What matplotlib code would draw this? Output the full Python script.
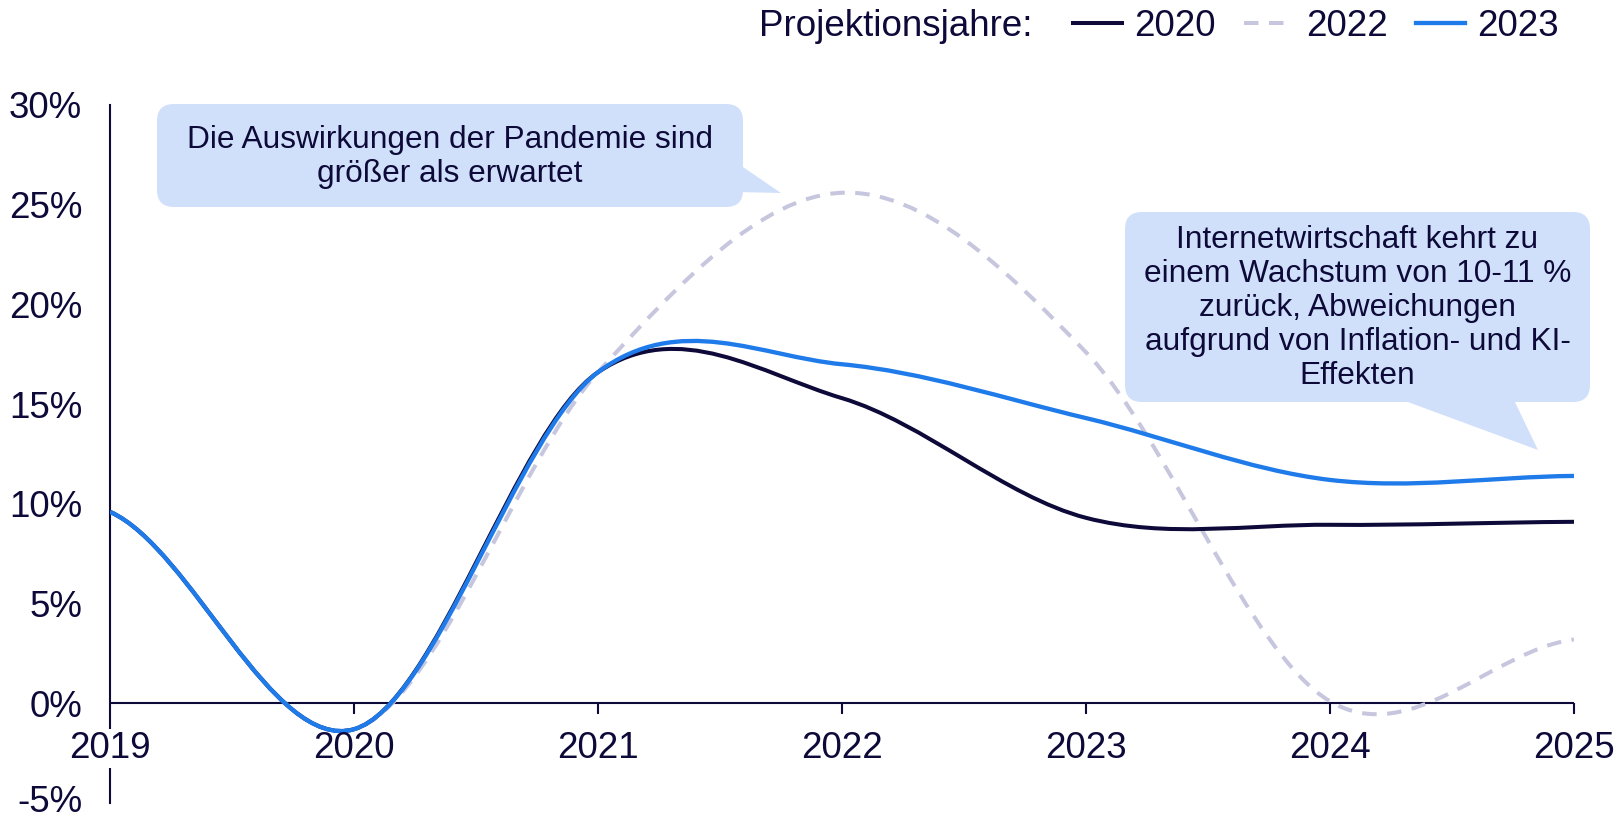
import matplotlib
matplotlib.use("Agg")
import matplotlib.pyplot as plt
from matplotlib.path import Path
from matplotlib.patches import PathPatch, FancyBboxPatch, Polygon
from matplotlib.lines import Line2D
from matplotlib.markers import TICKDOWN
from matplotlib.transforms import ScaledTranslation

plt.rcParams["font.family"] = ["Liberation Sans", "DejaVu Sans"]

# data (growth in %, per projection year)
years = [2019, 2020, 2021, 2022, 2023, 2024, 2025]
proj_2020 = [9.6, -1.3, 16.6, 15.3, 9.3, 8.95, 9.1]
proj_2022 = [9.6, -1.3, 16.6, 25.6, 17.6, 0.1, 3.2]
proj_2023 = [9.6, -1.3, 16.6, 17.0, 14.3, 11.2, 11.4]
series_labels = ["2020", "2022", "2023"]
y_ticks = [-5, 0, 5, 10, 15, 20, 25, 30]

NAVY = "#0d0938"
BLUE = "#1f7be9"
LILAC = "#c6c6de"
BOX = "#d0e0fa"
FS = 26.5

W, H = 1619, 818


def smooth_path(xs, ys):
    # Excel-style smoothed line: cubic bezier through every point
    n = len(xs)
    slope = [(ys[min(i + 1, n - 1)] - ys[max(i - 1, 0)]) / 2 for i in range(n)]
    verts = [(xs[0], ys[0])]
    codes = [Path.MOVETO]
    for i in range(n - 1):
        dx = (xs[i + 1] - xs[i]) / 3
        verts += [(xs[i] + dx, ys[i] + slope[i] / 3),
                  (xs[i + 1] - dx, ys[i + 1] - slope[i + 1] / 3),
                  (xs[i + 1], ys[i + 1])]
        codes += [Path.CURVE4] * 3
    return Path(verts, codes)


fig = plt.figure(figsize=(W / 100, H / 100), dpi=100)
ax = fig.add_axes([110 / W, 1 - 803 / H, (1574 - 110) / W, (803 - 105) / H])
ax.set_xlim(years[0], years[-1])
ax.set_ylim(-5, 30)

styles = [
    dict(color=NAVY, lw=2.9, ls="-"),
    dict(color=LILAC, lw=2.9, ls=(0, (3.6, 2.6))),
    dict(color=BLUE, lw=3.1, ls="-"),
]
order = [1, 0, 2]
data = [proj_2020, proj_2022, proj_2023]
for k in order:
    st = styles[k]
    p = PathPatch(smooth_path(years, data[k]), fill=False, edgecolor=st["color"],
                  lw=st["lw"], linestyle=st["ls"], capstyle="butt", joinstyle="round",
                  zorder=3 + order.index(k))
    ax.add_patch(p)

# axes styling
for s in ["top", "right", "bottom"]:
    ax.spines[s].set_visible(False)
ax.spines["left"].set_color(NAVY)
ax.spines["left"].set_linewidth(1.5)
ax.axhline(0, color=NAVY, lw=1.5, zorder=2)
ax.plot(years[1:], [0] * (len(years) - 1), ls="none", marker=TICKDOWN, ms=8,
        mew=1.5, color=NAVY, clip_on=False, zorder=2)

ax.set_xticks([])
ax.set_yticks(y_ticks, [f"{v}%" for v in y_ticks])
ax.tick_params(axis="y", length=0, pad=20, labelsize=FS, labelcolor=NAVY)
# nudge the bottom label up a little so it stays inside the picture
lowest = ax.get_yticklabels()[0]
lowest.set_transform(lowest.get_transform() + ScaledTranslation(0, 0.05, fig.dpi_scale_trans))

for i, yr in enumerate(years):
    kw = {}
    if i == 0:
        kw["bbox"] = dict(fc="white", ec="none", pad=1.5)
    ax.annotate(str(yr), (yr, 0), xytext=(0, -32.5), textcoords="offset points",
                ha="center", va="center", fontsize=FS, color=NAVY,
                annotation_clip=False, zorder=10, **kw)

# legend
handles = [Line2D([], [], color=st["color"], lw=st["lw"], ls=st["ls"]) for st in styles]
fig.legend(handles, series_labels, ncol=3, frameon=False, loc="center right",
           bbox_to_anchor=(1559 / W, 1 - 26 / H), fontsize=FS, labelcolor=NAVY,
           handlelength=1.35, handletextpad=0.33, columnspacing=0.76,
           borderpad=0, borderaxespad=0)
fig.text(759 / W, 1 - 26 / H, "Projektionsjahre:", ha="left", va="center",
         fontsize=FS, color=NAVY)


# callouts (pixel positions, top-left origin)
def callout(x0, y0, x1, y1, tip, text, ty):
    tr = fig.dpi_scale_trans
    box = FancyBboxPatch((x0 / 100, (H - y1) / 100), (x1 - x0) / 100, (y1 - y0) / 100,
                         boxstyle="round,pad=0,rounding_size=0.17", fc=BOX, ec="none",
                         transform=tr, zorder=5)
    fig.patches.append(box)
    tri = Polygon([(px / 100, (H - py) / 100) for px, py in tip], closed=True,
                  fc=BOX, ec="none", transform=tr, zorder=5)
    fig.patches.append(tri)
    fig.text((x0 + x1) / 200, (H - ty) / 100, text, transform=tr, ha="center",
             va="center", multialignment="center", fontsize=22.8, color=NAVY,
             linespacing=1.18, zorder=6)


callout(157, 104, 743, 207, [(737, 163), (737, 192), (781, 193)],
        "Die Auswirkungen der Pandemie sind\ngrößer als erwartet", 157)
callout(1125, 212, 1590, 402, [(1397, 398), (1513, 398), (1538, 450)],
        "Internetwirtschaft kehrt zu\neinem Wachstum von 10-11 %\nzurück, Abweichungen\n"
        "aufgrund von Inflation- und KI-\nEffekten", 308)

fig.savefig("out.png", dpi=100)
